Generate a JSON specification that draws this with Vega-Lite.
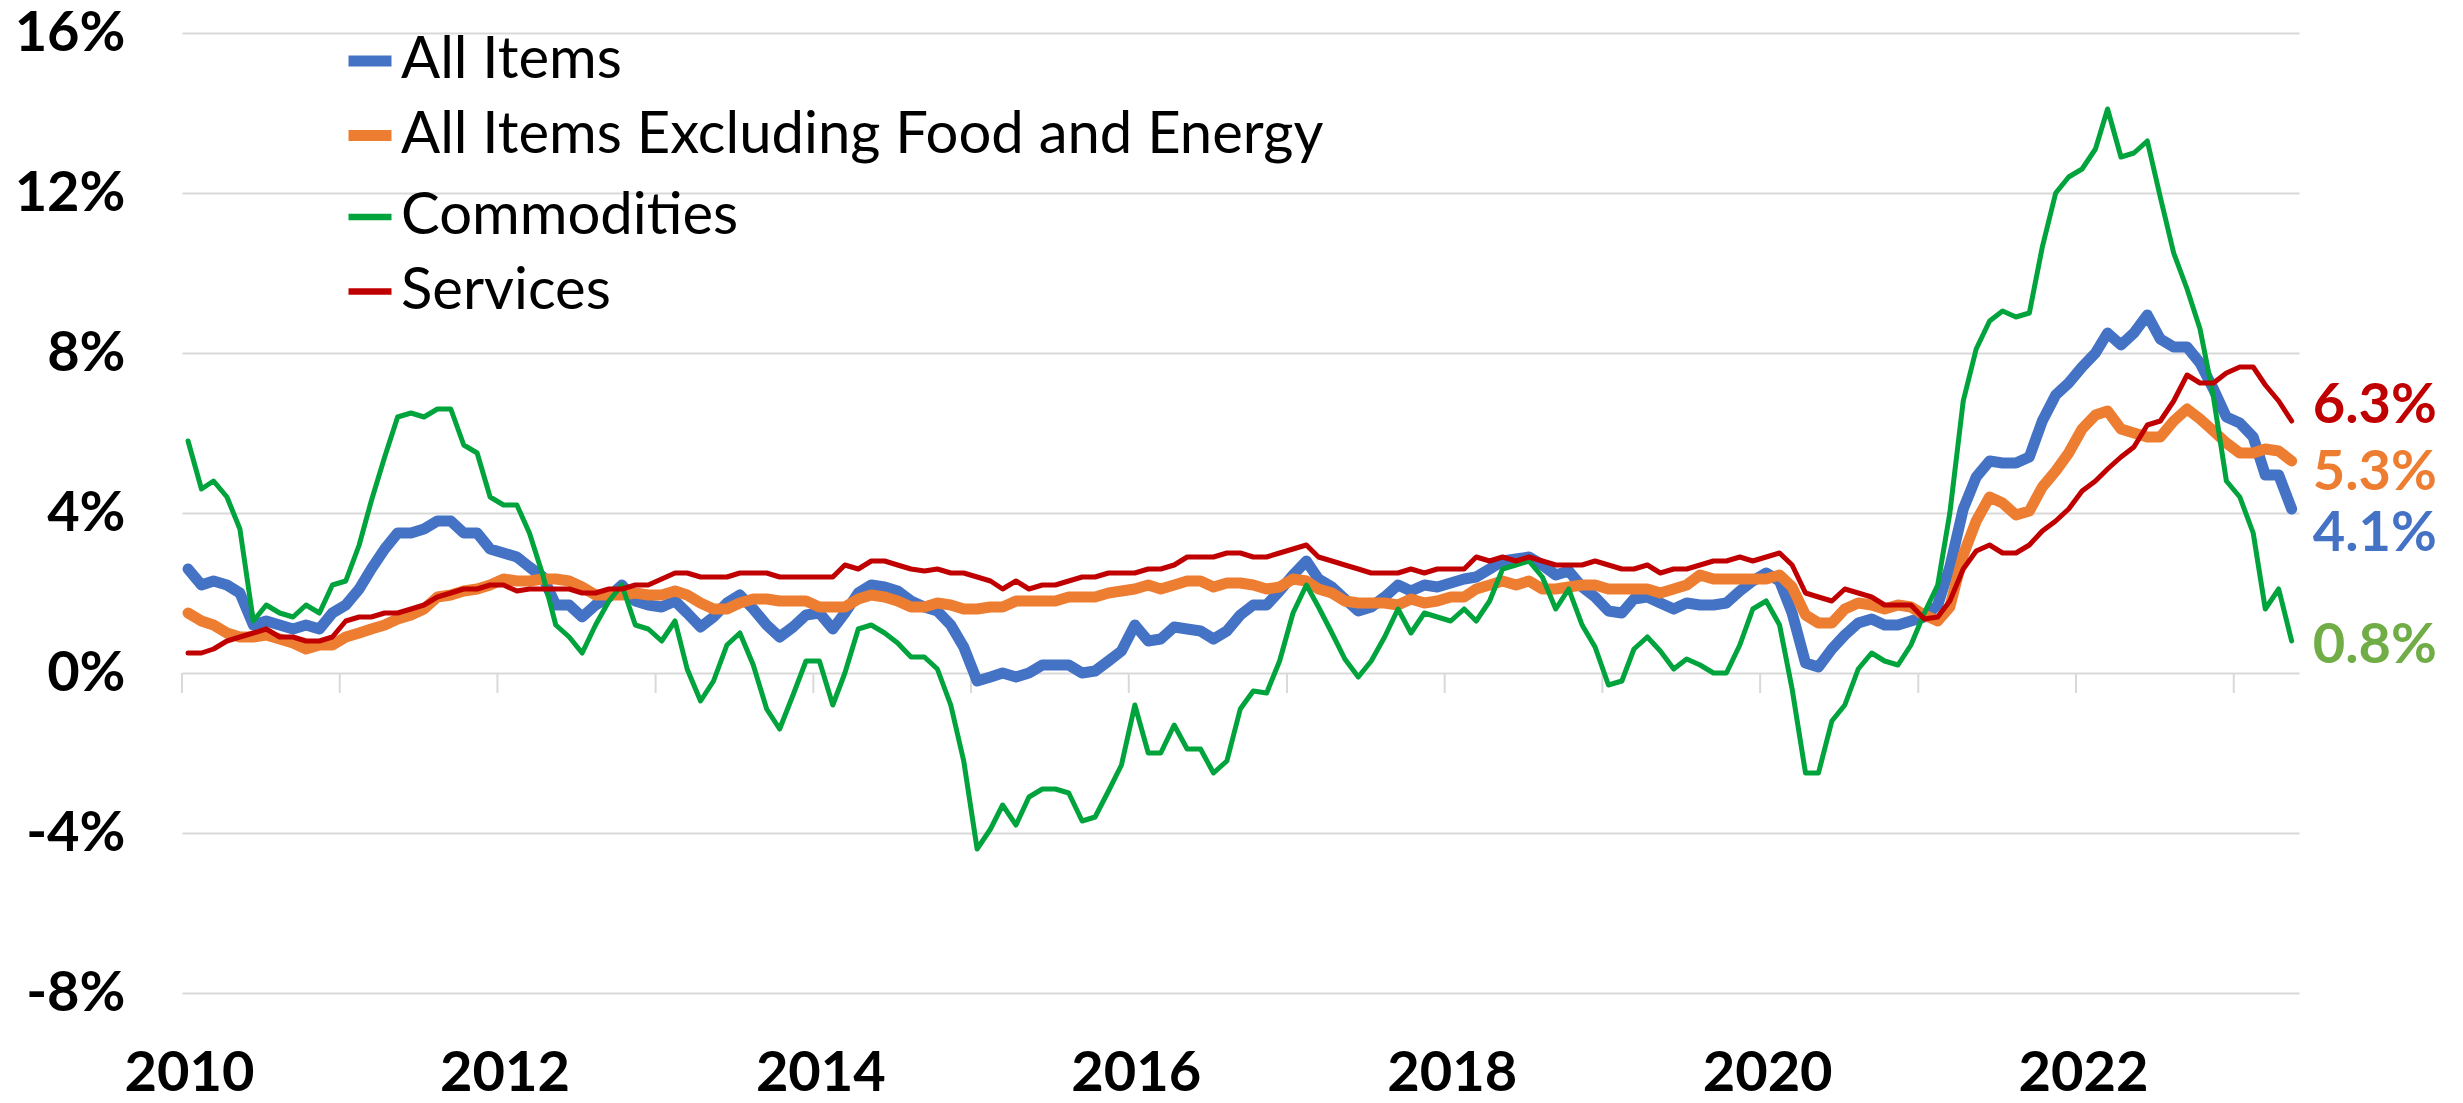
{
"$schema": "https://vega.github.io/schema/vega-lite/v6.json",
"width": 2117, "height": 960,
"autosize": "none",
"padding": {"left": 182, "top": 33, "right": 164, "bottom": 110},
"background": "white",
"config": {"view": {"stroke": null}, "font": "Lato"},
"datasets": {
"ticks": [{"date":"2010-01-01"},{"date":"2011-01-01"},{"date":"2012-01-01"},{"date":"2013-01-01"},{"date":"2014-01-01"},{"date":"2015-01-01"},{"date":"2016-01-01"},{"date":"2017-01-01"},{"date":"2018-01-01"},{"date":"2019-01-01"},{"date":"2020-01-01"},{"date":"2021-01-01"},{"date":"2022-01-01"},{"date":"2023-01-01"}],
"ends": [
{"date":"2023-05-15","series":"Services","value":6.3,"label":"6.3%"},
{"date":"2023-05-15","series":"All Items Excluding Food and Energy","value":5.3,"label":"5.3%"},
{"date":"2023-05-15","series":"All Items","value":4.1,"label":"4.1%"},
{"date":"2023-05-15","series":"Commodities","value":0.8,"label":"0.8%"}
],
"cpi": [
{"date":"2010-01-15","series":"All Items","value":2.6},{"date":"2010-02-15","series":"All Items","value":2.2},{"date":"2010-03-15","series":"All Items","value":2.3},{"date":"2010-04-15","series":"All Items","value":2.2},{"date":"2010-05-15","series":"All Items","value":2.0},{"date":"2010-06-15","series":"All Items","value":1.2},{"date":"2010-07-15","series":"All Items","value":1.3},{"date":"2010-08-15","series":"All Items","value":1.2},{"date":"2010-09-15","series":"All Items","value":1.1},{"date":"2010-10-15","series":"All Items","value":1.2},{"date":"2010-11-15","series":"All Items","value":1.1},{"date":"2010-12-15","series":"All Items","value":1.5},
{"date":"2011-01-15","series":"All Items","value":1.7},{"date":"2011-02-15","series":"All Items","value":2.1},{"date":"2011-03-15","series":"All Items","value":2.6},{"date":"2011-04-15","series":"All Items","value":3.1},{"date":"2011-05-15","series":"All Items","value":3.5},{"date":"2011-06-15","series":"All Items","value":3.5},{"date":"2011-07-15","series":"All Items","value":3.6},{"date":"2011-08-15","series":"All Items","value":3.8},{"date":"2011-09-15","series":"All Items","value":3.8},{"date":"2011-10-15","series":"All Items","value":3.5},{"date":"2011-11-15","series":"All Items","value":3.5},{"date":"2011-12-15","series":"All Items","value":3.1},
{"date":"2012-01-15","series":"All Items","value":3.0},{"date":"2012-02-15","series":"All Items","value":2.9},{"date":"2012-03-15","series":"All Items","value":2.65},{"date":"2012-04-15","series":"All Items","value":2.4},{"date":"2012-05-15","series":"All Items","value":1.7},{"date":"2012-06-15","series":"All Items","value":1.7},{"date":"2012-07-15","series":"All Items","value":1.4},{"date":"2012-08-15","series":"All Items","value":1.7},{"date":"2012-09-15","series":"All Items","value":1.9},{"date":"2012-10-15","series":"All Items","value":2.2},{"date":"2012-11-15","series":"All Items","value":1.8},{"date":"2012-12-15","series":"All Items","value":1.7},
{"date":"2013-01-15","series":"All Items","value":1.65},{"date":"2013-02-15","series":"All Items","value":1.8},{"date":"2013-03-15","series":"All Items","value":1.5},{"date":"2013-04-15","series":"All Items","value":1.15},{"date":"2013-05-15","series":"All Items","value":1.4},{"date":"2013-06-15","series":"All Items","value":1.75},{"date":"2013-07-15","series":"All Items","value":1.95},{"date":"2013-08-15","series":"All Items","value":1.6},{"date":"2013-09-15","series":"All Items","value":1.2},{"date":"2013-10-15","series":"All Items","value":0.9},{"date":"2013-11-15","series":"All Items","value":1.15},{"date":"2013-12-15","series":"All Items","value":1.45},
{"date":"2014-01-15","series":"All Items","value":1.5},{"date":"2014-02-15","series":"All Items","value":1.1},{"date":"2014-03-15","series":"All Items","value":1.5},{"date":"2014-04-15","series":"All Items","value":2.0},{"date":"2014-05-15","series":"All Items","value":2.2},{"date":"2014-06-15","series":"All Items","value":2.15},{"date":"2014-07-15","series":"All Items","value":2.05},{"date":"2014-08-15","series":"All Items","value":1.8},{"date":"2014-09-15","series":"All Items","value":1.65},{"date":"2014-10-15","series":"All Items","value":1.55},{"date":"2014-11-15","series":"All Items","value":1.2},{"date":"2014-12-15","series":"All Items","value":0.65},
{"date":"2015-01-15","series":"All Items","value":-0.2},{"date":"2015-02-15","series":"All Items","value":-0.1},{"date":"2015-03-15","series":"All Items","value":0.0},{"date":"2015-04-15","series":"All Items","value":-0.1},{"date":"2015-05-15","series":"All Items","value":0.0},{"date":"2015-06-15","series":"All Items","value":0.2},{"date":"2015-07-15","series":"All Items","value":0.2},{"date":"2015-08-15","series":"All Items","value":0.2},{"date":"2015-09-15","series":"All Items","value":0.0},{"date":"2015-10-15","series":"All Items","value":0.05},{"date":"2015-11-15","series":"All Items","value":0.3},{"date":"2015-12-15","series":"All Items","value":0.55},
{"date":"2016-01-15","series":"All Items","value":1.2},{"date":"2016-02-15","series":"All Items","value":0.8},{"date":"2016-03-15","series":"All Items","value":0.85},{"date":"2016-04-15","series":"All Items","value":1.15},{"date":"2016-05-15","series":"All Items","value":1.1},{"date":"2016-06-15","series":"All Items","value":1.05},{"date":"2016-07-15","series":"All Items","value":0.85},{"date":"2016-08-15","series":"All Items","value":1.05},{"date":"2016-09-15","series":"All Items","value":1.45},{"date":"2016-10-15","series":"All Items","value":1.7},{"date":"2016-11-15","series":"All Items","value":1.7},{"date":"2016-12-15","series":"All Items","value":2.05},
{"date":"2017-01-15","series":"All Items","value":2.45},{"date":"2017-02-15","series":"All Items","value":2.8},{"date":"2017-03-15","series":"All Items","value":2.35},{"date":"2017-04-15","series":"All Items","value":2.15},{"date":"2017-05-15","series":"All Items","value":1.85},{"date":"2017-06-15","series":"All Items","value":1.55},{"date":"2017-07-15","series":"All Items","value":1.65},{"date":"2017-08-15","series":"All Items","value":1.9},{"date":"2017-09-15","series":"All Items","value":2.2},{"date":"2017-10-15","series":"All Items","value":2.05},{"date":"2017-11-15","series":"All Items","value":2.2},{"date":"2017-12-15","series":"All Items","value":2.15},
{"date":"2018-01-15","series":"All Items","value":2.25},{"date":"2018-02-15","series":"All Items","value":2.35},{"date":"2018-03-15","series":"All Items","value":2.4},{"date":"2018-04-15","series":"All Items","value":2.6},{"date":"2018-05-15","series":"All Items","value":2.8},{"date":"2018-06-15","series":"All Items","value":2.85},{"date":"2018-07-15","series":"All Items","value":2.9},{"date":"2018-08-15","series":"All Items","value":2.7},{"date":"2018-09-15","series":"All Items","value":2.45},{"date":"2018-10-15","series":"All Items","value":2.55},{"date":"2018-11-15","series":"All Items","value":2.15},{"date":"2018-12-15","series":"All Items","value":1.9},
{"date":"2019-01-15","series":"All Items","value":1.55},{"date":"2019-02-15","series":"All Items","value":1.5},{"date":"2019-03-15","series":"All Items","value":1.85},{"date":"2019-04-15","series":"All Items","value":1.9},{"date":"2019-05-15","series":"All Items","value":1.75},{"date":"2019-06-15","series":"All Items","value":1.6},{"date":"2019-07-15","series":"All Items","value":1.75},{"date":"2019-08-15","series":"All Items","value":1.7},{"date":"2019-09-15","series":"All Items","value":1.7},{"date":"2019-10-15","series":"All Items","value":1.75},{"date":"2019-11-15","series":"All Items","value":2.05},{"date":"2019-12-15","series":"All Items","value":2.3},
{"date":"2020-01-15","series":"All Items","value":2.5},{"date":"2020-02-15","series":"All Items","value":2.3},{"date":"2020-03-15","series":"All Items","value":1.5},{"date":"2020-04-15","series":"All Items","value":0.25},{"date":"2020-05-15","series":"All Items","value":0.15},{"date":"2020-06-15","series":"All Items","value":0.6},{"date":"2020-07-15","series":"All Items","value":0.95},{"date":"2020-08-15","series":"All Items","value":1.25},{"date":"2020-09-15","series":"All Items","value":1.35},{"date":"2020-10-15","series":"All Items","value":1.2},{"date":"2020-11-15","series":"All Items","value":1.2},{"date":"2020-12-15","series":"All Items","value":1.3},
{"date":"2021-01-15","series":"All Items","value":1.4},{"date":"2021-02-15","series":"All Items","value":1.7},{"date":"2021-03-15","series":"All Items","value":2.65},{"date":"2021-04-15","series":"All Items","value":4.1},{"date":"2021-05-15","series":"All Items","value":4.9},{"date":"2021-06-15","series":"All Items","value":5.3},{"date":"2021-07-15","series":"All Items","value":5.25},{"date":"2021-08-15","series":"All Items","value":5.25},{"date":"2021-09-15","series":"All Items","value":5.4},{"date":"2021-10-15","series":"All Items","value":6.3},{"date":"2021-11-15","series":"All Items","value":6.95},{"date":"2021-12-15","series":"All Items","value":7.25},
{"date":"2022-01-15","series":"All Items","value":7.65},{"date":"2022-02-15","series":"All Items","value":8.0},{"date":"2022-03-15","series":"All Items","value":8.5},{"date":"2022-04-15","series":"All Items","value":8.2},{"date":"2022-05-15","series":"All Items","value":8.5},{"date":"2022-06-15","series":"All Items","value":8.95},{"date":"2022-07-15","series":"All Items","value":8.35},{"date":"2022-08-15","series":"All Items","value":8.15},{"date":"2022-09-15","series":"All Items","value":8.15},{"date":"2022-10-15","series":"All Items","value":7.75},{"date":"2022-11-15","series":"All Items","value":7.1},{"date":"2022-12-15","series":"All Items","value":6.4},
{"date":"2023-01-15","series":"All Items","value":6.25},{"date":"2023-02-15","series":"All Items","value":5.9},{"date":"2023-03-15","series":"All Items","value":4.95},{"date":"2023-04-15","series":"All Items","value":4.95},{"date":"2023-05-15","series":"All Items","value":4.1},

{"date":"2010-01-15","series":"All Items Excluding Food and Energy","value":1.5},{"date":"2010-02-15","series":"All Items Excluding Food and Energy","value":1.3},{"date":"2010-03-15","series":"All Items Excluding Food and Energy","value":1.2},{"date":"2010-04-15","series":"All Items Excluding Food and Energy","value":1.0},{"date":"2010-05-15","series":"All Items Excluding Food and Energy","value":0.9},{"date":"2010-06-15","series":"All Items Excluding Food and Energy","value":0.9},{"date":"2010-07-15","series":"All Items Excluding Food and Energy","value":0.95},{"date":"2010-08-15","series":"All Items Excluding Food and Energy","value":0.85},{"date":"2010-09-15","series":"All Items Excluding Food and Energy","value":0.75},{"date":"2010-10-15","series":"All Items Excluding Food and Energy","value":0.6},{"date":"2010-11-15","series":"All Items Excluding Food and Energy","value":0.7},{"date":"2010-12-15","series":"All Items Excluding Food and Energy","value":0.7},
{"date":"2011-01-15","series":"All Items Excluding Food and Energy","value":0.9},{"date":"2011-02-15","series":"All Items Excluding Food and Energy","value":1.0},{"date":"2011-03-15","series":"All Items Excluding Food and Energy","value":1.1},{"date":"2011-04-15","series":"All Items Excluding Food and Energy","value":1.2},{"date":"2011-05-15","series":"All Items Excluding Food and Energy","value":1.35},{"date":"2011-06-15","series":"All Items Excluding Food and Energy","value":1.45},{"date":"2011-07-15","series":"All Items Excluding Food and Energy","value":1.6},{"date":"2011-08-15","series":"All Items Excluding Food and Energy","value":1.9},{"date":"2011-09-15","series":"All Items Excluding Food and Energy","value":1.95},{"date":"2011-10-15","series":"All Items Excluding Food and Energy","value":2.05},{"date":"2011-11-15","series":"All Items Excluding Food and Energy","value":2.1},{"date":"2011-12-15","series":"All Items Excluding Food and Energy","value":2.2},
{"date":"2012-01-15","series":"All Items Excluding Food and Energy","value":2.35},{"date":"2012-02-15","series":"All Items Excluding Food and Energy","value":2.3},{"date":"2012-03-15","series":"All Items Excluding Food and Energy","value":2.3},{"date":"2012-04-15","series":"All Items Excluding Food and Energy","value":2.35},{"date":"2012-05-15","series":"All Items Excluding Food and Energy","value":2.35},{"date":"2012-06-15","series":"All Items Excluding Food and Energy","value":2.3},{"date":"2012-07-15","series":"All Items Excluding Food and Energy","value":2.15},{"date":"2012-08-15","series":"All Items Excluding Food and Energy","value":1.95},{"date":"2012-09-15","series":"All Items Excluding Food and Energy","value":1.95},{"date":"2012-10-15","series":"All Items Excluding Food and Energy","value":1.95},{"date":"2012-11-15","series":"All Items Excluding Food and Energy","value":2.0},{"date":"2012-12-15","series":"All Items Excluding Food and Energy","value":1.95},
{"date":"2013-01-15","series":"All Items Excluding Food and Energy","value":1.95},{"date":"2013-02-15","series":"All Items Excluding Food and Energy","value":2.05},{"date":"2013-03-15","series":"All Items Excluding Food and Energy","value":1.95},{"date":"2013-04-15","series":"All Items Excluding Food and Energy","value":1.75},{"date":"2013-05-15","series":"All Items Excluding Food and Energy","value":1.6},{"date":"2013-06-15","series":"All Items Excluding Food and Energy","value":1.6},{"date":"2013-07-15","series":"All Items Excluding Food and Energy","value":1.75},{"date":"2013-08-15","series":"All Items Excluding Food and Energy","value":1.85},{"date":"2013-09-15","series":"All Items Excluding Food and Energy","value":1.85},{"date":"2013-10-15","series":"All Items Excluding Food and Energy","value":1.8},{"date":"2013-11-15","series":"All Items Excluding Food and Energy","value":1.8},{"date":"2013-12-15","series":"All Items Excluding Food and Energy","value":1.8},
{"date":"2014-01-15","series":"All Items Excluding Food and Energy","value":1.65},{"date":"2014-02-15","series":"All Items Excluding Food and Energy","value":1.65},{"date":"2014-03-15","series":"All Items Excluding Food and Energy","value":1.65},{"date":"2014-04-15","series":"All Items Excluding Food and Energy","value":1.85},{"date":"2014-05-15","series":"All Items Excluding Food and Energy","value":1.95},{"date":"2014-06-15","series":"All Items Excluding Food and Energy","value":1.9},{"date":"2014-07-15","series":"All Items Excluding Food and Energy","value":1.8},{"date":"2014-08-15","series":"All Items Excluding Food and Energy","value":1.65},{"date":"2014-09-15","series":"All Items Excluding Food and Energy","value":1.65},{"date":"2014-10-15","series":"All Items Excluding Food and Energy","value":1.75},{"date":"2014-11-15","series":"All Items Excluding Food and Energy","value":1.7},{"date":"2014-12-15","series":"All Items Excluding Food and Energy","value":1.6},
{"date":"2015-01-15","series":"All Items Excluding Food and Energy","value":1.6},{"date":"2015-02-15","series":"All Items Excluding Food and Energy","value":1.65},{"date":"2015-03-15","series":"All Items Excluding Food and Energy","value":1.65},{"date":"2015-04-15","series":"All Items Excluding Food and Energy","value":1.8},{"date":"2015-05-15","series":"All Items Excluding Food and Energy","value":1.8},{"date":"2015-06-15","series":"All Items Excluding Food and Energy","value":1.8},{"date":"2015-07-15","series":"All Items Excluding Food and Energy","value":1.8},{"date":"2015-08-15","series":"All Items Excluding Food and Energy","value":1.9},{"date":"2015-09-15","series":"All Items Excluding Food and Energy","value":1.9},{"date":"2015-10-15","series":"All Items Excluding Food and Energy","value":1.9},{"date":"2015-11-15","series":"All Items Excluding Food and Energy","value":2.0},{"date":"2015-12-15","series":"All Items Excluding Food and Energy","value":2.05},
{"date":"2016-01-15","series":"All Items Excluding Food and Energy","value":2.1},{"date":"2016-02-15","series":"All Items Excluding Food and Energy","value":2.2},{"date":"2016-03-15","series":"All Items Excluding Food and Energy","value":2.1},{"date":"2016-04-15","series":"All Items Excluding Food and Energy","value":2.2},{"date":"2016-05-15","series":"All Items Excluding Food and Energy","value":2.3},{"date":"2016-06-15","series":"All Items Excluding Food and Energy","value":2.3},{"date":"2016-07-15","series":"All Items Excluding Food and Energy","value":2.15},{"date":"2016-08-15","series":"All Items Excluding Food and Energy","value":2.25},{"date":"2016-09-15","series":"All Items Excluding Food and Energy","value":2.25},{"date":"2016-10-15","series":"All Items Excluding Food and Energy","value":2.2},{"date":"2016-11-15","series":"All Items Excluding Food and Energy","value":2.1},{"date":"2016-12-15","series":"All Items Excluding Food and Energy","value":2.15},
{"date":"2017-01-15","series":"All Items Excluding Food and Energy","value":2.35},{"date":"2017-02-15","series":"All Items Excluding Food and Energy","value":2.3},{"date":"2017-03-15","series":"All Items Excluding Food and Energy","value":2.1},{"date":"2017-04-15","series":"All Items Excluding Food and Energy","value":2.0},{"date":"2017-05-15","series":"All Items Excluding Food and Energy","value":1.8},{"date":"2017-06-15","series":"All Items Excluding Food and Energy","value":1.75},{"date":"2017-07-15","series":"All Items Excluding Food and Energy","value":1.75},{"date":"2017-08-15","series":"All Items Excluding Food and Energy","value":1.75},{"date":"2017-09-15","series":"All Items Excluding Food and Energy","value":1.7},{"date":"2017-10-15","series":"All Items Excluding Food and Energy","value":1.85},{"date":"2017-11-15","series":"All Items Excluding Food and Energy","value":1.75},{"date":"2017-12-15","series":"All Items Excluding Food and Energy","value":1.8},
{"date":"2018-01-15","series":"All Items Excluding Food and Energy","value":1.9},{"date":"2018-02-15","series":"All Items Excluding Food and Energy","value":1.9},{"date":"2018-03-15","series":"All Items Excluding Food and Energy","value":2.1},{"date":"2018-04-15","series":"All Items Excluding Food and Energy","value":2.2},{"date":"2018-05-15","series":"All Items Excluding Food and Energy","value":2.3},{"date":"2018-06-15","series":"All Items Excluding Food and Energy","value":2.2},{"date":"2018-07-15","series":"All Items Excluding Food and Energy","value":2.3},{"date":"2018-08-15","series":"All Items Excluding Food and Energy","value":2.1},{"date":"2018-09-15","series":"All Items Excluding Food and Energy","value":2.1},{"date":"2018-10-15","series":"All Items Excluding Food and Energy","value":2.15},{"date":"2018-11-15","series":"All Items Excluding Food and Energy","value":2.2},{"date":"2018-12-15","series":"All Items Excluding Food and Energy","value":2.2},
{"date":"2019-01-15","series":"All Items Excluding Food and Energy","value":2.1},{"date":"2019-02-15","series":"All Items Excluding Food and Energy","value":2.1},{"date":"2019-03-15","series":"All Items Excluding Food and Energy","value":2.1},{"date":"2019-04-15","series":"All Items Excluding Food and Energy","value":2.1},{"date":"2019-05-15","series":"All Items Excluding Food and Energy","value":2.0},{"date":"2019-06-15","series":"All Items Excluding Food and Energy","value":2.1},{"date":"2019-07-15","series":"All Items Excluding Food and Energy","value":2.2},{"date":"2019-08-15","series":"All Items Excluding Food and Energy","value":2.45},{"date":"2019-09-15","series":"All Items Excluding Food and Energy","value":2.35},{"date":"2019-10-15","series":"All Items Excluding Food and Energy","value":2.35},{"date":"2019-11-15","series":"All Items Excluding Food and Energy","value":2.35},{"date":"2019-12-15","series":"All Items Excluding Food and Energy","value":2.35},
{"date":"2020-01-15","series":"All Items Excluding Food and Energy","value":2.35},{"date":"2020-02-15","series":"All Items Excluding Food and Energy","value":2.45},{"date":"2020-03-15","series":"All Items Excluding Food and Energy","value":2.15},{"date":"2020-04-15","series":"All Items Excluding Food and Energy","value":1.45},{"date":"2020-05-15","series":"All Items Excluding Food and Energy","value":1.25},{"date":"2020-06-15","series":"All Items Excluding Food and Energy","value":1.25},{"date":"2020-07-15","series":"All Items Excluding Food and Energy","value":1.6},{"date":"2020-08-15","series":"All Items Excluding Food and Energy","value":1.75},{"date":"2020-09-15","series":"All Items Excluding Food and Energy","value":1.7},{"date":"2020-10-15","series":"All Items Excluding Food and Energy","value":1.6},{"date":"2020-11-15","series":"All Items Excluding Food and Energy","value":1.7},{"date":"2020-12-15","series":"All Items Excluding Food and Energy","value":1.65},
{"date":"2021-01-15","series":"All Items Excluding Food and Energy","value":1.45},{"date":"2021-02-15","series":"All Items Excluding Food and Energy","value":1.3},{"date":"2021-03-15","series":"All Items Excluding Food and Energy","value":1.65},{"date":"2021-04-15","series":"All Items Excluding Food and Energy","value":2.95},{"date":"2021-05-15","series":"All Items Excluding Food and Energy","value":3.8},{"date":"2021-06-15","series":"All Items Excluding Food and Energy","value":4.4},{"date":"2021-07-15","series":"All Items Excluding Food and Energy","value":4.25},{"date":"2021-08-15","series":"All Items Excluding Food and Energy","value":3.95},{"date":"2021-09-15","series":"All Items Excluding Food and Energy","value":4.05},{"date":"2021-10-15","series":"All Items Excluding Food and Energy","value":4.65},{"date":"2021-11-15","series":"All Items Excluding Food and Energy","value":5.05},{"date":"2021-12-15","series":"All Items Excluding Food and Energy","value":5.5},
{"date":"2022-01-15","series":"All Items Excluding Food and Energy","value":6.1},{"date":"2022-02-15","series":"All Items Excluding Food and Energy","value":6.45},{"date":"2022-03-15","series":"All Items Excluding Food and Energy","value":6.55},{"date":"2022-04-15","series":"All Items Excluding Food and Energy","value":6.1},{"date":"2022-05-15","series":"All Items Excluding Food and Energy","value":6.0},{"date":"2022-06-15","series":"All Items Excluding Food and Energy","value":5.9},{"date":"2022-07-15","series":"All Items Excluding Food and Energy","value":5.9},{"date":"2022-08-15","series":"All Items Excluding Food and Energy","value":6.3},{"date":"2022-09-15","series":"All Items Excluding Food and Energy","value":6.6},{"date":"2022-10-15","series":"All Items Excluding Food and Energy","value":6.35},{"date":"2022-11-15","series":"All Items Excluding Food and Energy","value":6.05},{"date":"2022-12-15","series":"All Items Excluding Food and Energy","value":5.75},
{"date":"2023-01-15","series":"All Items Excluding Food and Energy","value":5.5},{"date":"2023-02-15","series":"All Items Excluding Food and Energy","value":5.5},{"date":"2023-03-15","series":"All Items Excluding Food and Energy","value":5.6},{"date":"2023-04-15","series":"All Items Excluding Food and Energy","value":5.55},{"date":"2023-05-15","series":"All Items Excluding Food and Energy","value":5.3},

{"date":"2010-01-15","series":"Commodities","value":5.8},{"date":"2010-02-15","series":"Commodities","value":4.6},{"date":"2010-03-15","series":"Commodities","value":4.8},{"date":"2010-04-15","series":"Commodities","value":4.4},{"date":"2010-05-15","series":"Commodities","value":3.6},{"date":"2010-06-15","series":"Commodities","value":1.3},{"date":"2010-07-15","series":"Commodities","value":1.7},{"date":"2010-08-15","series":"Commodities","value":1.5},{"date":"2010-09-15","series":"Commodities","value":1.4},{"date":"2010-10-15","series":"Commodities","value":1.7},{"date":"2010-11-15","series":"Commodities","value":1.5},{"date":"2010-12-15","series":"Commodities","value":2.2},
{"date":"2011-01-15","series":"Commodities","value":2.3},{"date":"2011-02-15","series":"Commodities","value":3.2},{"date":"2011-03-15","series":"Commodities","value":4.3},{"date":"2011-04-15","series":"Commodities","value":5.4},{"date":"2011-05-15","series":"Commodities","value":6.4},{"date":"2011-06-15","series":"Commodities","value":6.5},{"date":"2011-07-15","series":"Commodities","value":6.4},{"date":"2011-08-15","series":"Commodities","value":6.6},{"date":"2011-09-15","series":"Commodities","value":6.6},{"date":"2011-10-15","series":"Commodities","value":5.7},{"date":"2011-11-15","series":"Commodities","value":5.5},{"date":"2011-12-15","series":"Commodities","value":4.4},
{"date":"2012-01-15","series":"Commodities","value":4.2},{"date":"2012-02-15","series":"Commodities","value":4.2},{"date":"2012-03-15","series":"Commodities","value":3.5},{"date":"2012-04-15","series":"Commodities","value":2.45},{"date":"2012-05-15","series":"Commodities","value":1.2},{"date":"2012-06-15","series":"Commodities","value":0.9},{"date":"2012-07-15","series":"Commodities","value":0.5},{"date":"2012-08-15","series":"Commodities","value":1.2},{"date":"2012-09-15","series":"Commodities","value":1.8},{"date":"2012-10-15","series":"Commodities","value":2.2},{"date":"2012-11-15","series":"Commodities","value":1.2},{"date":"2012-12-15","series":"Commodities","value":1.1},
{"date":"2013-01-15","series":"Commodities","value":0.8},{"date":"2013-02-15","series":"Commodities","value":1.3},{"date":"2013-03-15","series":"Commodities","value":0.1},{"date":"2013-04-15","series":"Commodities","value":-0.7},{"date":"2013-05-15","series":"Commodities","value":-0.2},{"date":"2013-06-15","series":"Commodities","value":0.7},{"date":"2013-07-15","series":"Commodities","value":1.0},{"date":"2013-08-15","series":"Commodities","value":0.2},{"date":"2013-09-15","series":"Commodities","value":-0.9},{"date":"2013-10-15","series":"Commodities","value":-1.4},{"date":"2013-11-15","series":"Commodities","value":-0.55},{"date":"2013-12-15","series":"Commodities","value":0.3},
{"date":"2014-01-15","series":"Commodities","value":0.3},{"date":"2014-02-15","series":"Commodities","value":-0.8},{"date":"2014-03-15","series":"Commodities","value":0.0},{"date":"2014-04-15","series":"Commodities","value":1.1},{"date":"2014-05-15","series":"Commodities","value":1.2},{"date":"2014-06-15","series":"Commodities","value":1.0},{"date":"2014-07-15","series":"Commodities","value":0.75},{"date":"2014-08-15","series":"Commodities","value":0.4},{"date":"2014-09-15","series":"Commodities","value":0.4},{"date":"2014-10-15","series":"Commodities","value":0.1},{"date":"2014-11-15","series":"Commodities","value":-0.8},{"date":"2014-12-15","series":"Commodities","value":-2.2},
{"date":"2015-01-15","series":"Commodities","value":-4.4},{"date":"2015-02-15","series":"Commodities","value":-3.9},{"date":"2015-03-15","series":"Commodities","value":-3.3},{"date":"2015-04-15","series":"Commodities","value":-3.8},{"date":"2015-05-15","series":"Commodities","value":-3.1},{"date":"2015-06-15","series":"Commodities","value":-2.9},{"date":"2015-07-15","series":"Commodities","value":-2.9},{"date":"2015-08-15","series":"Commodities","value":-3.0},{"date":"2015-09-15","series":"Commodities","value":-3.7},{"date":"2015-10-15","series":"Commodities","value":-3.6},{"date":"2015-11-15","series":"Commodities","value":-2.95},{"date":"2015-12-15","series":"Commodities","value":-2.3},
{"date":"2016-01-15","series":"Commodities","value":-0.8},{"date":"2016-02-15","series":"Commodities","value":-2.0},{"date":"2016-03-15","series":"Commodities","value":-2.0},{"date":"2016-04-15","series":"Commodities","value":-1.3},{"date":"2016-05-15","series":"Commodities","value":-1.9},{"date":"2016-06-15","series":"Commodities","value":-1.9},{"date":"2016-07-15","series":"Commodities","value":-2.5},{"date":"2016-08-15","series":"Commodities","value":-2.2},{"date":"2016-09-15","series":"Commodities","value":-0.9},{"date":"2016-10-15","series":"Commodities","value":-0.45},{"date":"2016-11-15","series":"Commodities","value":-0.5},{"date":"2016-12-15","series":"Commodities","value":0.3},
{"date":"2017-01-15","series":"Commodities","value":1.5},{"date":"2017-02-15","series":"Commodities","value":2.2},{"date":"2017-03-15","series":"Commodities","value":1.65},{"date":"2017-04-15","series":"Commodities","value":1.0},{"date":"2017-05-15","series":"Commodities","value":0.35},{"date":"2017-06-15","series":"Commodities","value":-0.1},{"date":"2017-07-15","series":"Commodities","value":0.3},{"date":"2017-08-15","series":"Commodities","value":0.9},{"date":"2017-09-15","series":"Commodities","value":1.6},{"date":"2017-10-15","series":"Commodities","value":1.0},{"date":"2017-11-15","series":"Commodities","value":1.5},{"date":"2017-12-15","series":"Commodities","value":1.4},
{"date":"2018-01-15","series":"Commodities","value":1.3},{"date":"2018-02-15","series":"Commodities","value":1.6},{"date":"2018-03-15","series":"Commodities","value":1.3},{"date":"2018-04-15","series":"Commodities","value":1.8},{"date":"2018-05-15","series":"Commodities","value":2.6},{"date":"2018-06-15","series":"Commodities","value":2.7},{"date":"2018-07-15","series":"Commodities","value":2.8},{"date":"2018-08-15","series":"Commodities","value":2.4},{"date":"2018-09-15","series":"Commodities","value":1.6},{"date":"2018-10-15","series":"Commodities","value":2.1},{"date":"2018-11-15","series":"Commodities","value":1.2},{"date":"2018-12-15","series":"Commodities","value":0.65},
{"date":"2019-01-15","series":"Commodities","value":-0.3},{"date":"2019-02-15","series":"Commodities","value":-0.2},{"date":"2019-03-15","series":"Commodities","value":0.6},{"date":"2019-04-15","series":"Commodities","value":0.9},{"date":"2019-05-15","series":"Commodities","value":0.55},{"date":"2019-06-15","series":"Commodities","value":0.1},{"date":"2019-07-15","series":"Commodities","value":0.35},{"date":"2019-08-15","series":"Commodities","value":0.2},{"date":"2019-09-15","series":"Commodities","value":0.0},{"date":"2019-10-15","series":"Commodities","value":0.0},{"date":"2019-11-15","series":"Commodities","value":0.7},{"date":"2019-12-15","series":"Commodities","value":1.6},
{"date":"2020-01-15","series":"Commodities","value":1.8},{"date":"2020-02-15","series":"Commodities","value":1.2},{"date":"2020-03-15","series":"Commodities","value":-0.4},{"date":"2020-04-15","series":"Commodities","value":-2.5},{"date":"2020-05-15","series":"Commodities","value":-2.5},{"date":"2020-06-15","series":"Commodities","value":-1.2},{"date":"2020-07-15","series":"Commodities","value":-0.8},{"date":"2020-08-15","series":"Commodities","value":0.1},{"date":"2020-09-15","series":"Commodities","value":0.5},{"date":"2020-10-15","series":"Commodities","value":0.3},{"date":"2020-11-15","series":"Commodities","value":0.2},{"date":"2020-12-15","series":"Commodities","value":0.7},
{"date":"2021-01-15","series":"Commodities","value":1.5},{"date":"2021-02-15","series":"Commodities","value":2.2},{"date":"2021-03-15","series":"Commodities","value":4.0},{"date":"2021-04-15","series":"Commodities","value":6.8},{"date":"2021-05-15","series":"Commodities","value":8.1},{"date":"2021-06-15","series":"Commodities","value":8.8},{"date":"2021-07-15","series":"Commodities","value":9.05},{"date":"2021-08-15","series":"Commodities","value":8.9},{"date":"2021-09-15","series":"Commodities","value":9.0},{"date":"2021-10-15","series":"Commodities","value":10.65},{"date":"2021-11-15","series":"Commodities","value":12.0},{"date":"2021-12-15","series":"Commodities","value":12.4},
{"date":"2022-01-15","series":"Commodities","value":12.6},{"date":"2022-02-15","series":"Commodities","value":13.1},{"date":"2022-03-15","series":"Commodities","value":14.1},{"date":"2022-04-15","series":"Commodities","value":12.9},{"date":"2022-05-15","series":"Commodities","value":13.0},{"date":"2022-06-15","series":"Commodities","value":13.3},{"date":"2022-07-15","series":"Commodities","value":11.9},{"date":"2022-08-15","series":"Commodities","value":10.5},{"date":"2022-09-15","series":"Commodities","value":9.6},{"date":"2022-10-15","series":"Commodities","value":8.6},{"date":"2022-11-15","series":"Commodities","value":6.9},{"date":"2022-12-15","series":"Commodities","value":4.8},
{"date":"2023-01-15","series":"Commodities","value":4.4},{"date":"2023-02-15","series":"Commodities","value":3.5},{"date":"2023-03-15","series":"Commodities","value":1.6},{"date":"2023-04-15","series":"Commodities","value":2.1},{"date":"2023-05-15","series":"Commodities","value":0.8},

{"date":"2010-01-15","series":"Services","value":0.5},{"date":"2010-02-15","series":"Services","value":0.5},{"date":"2010-03-15","series":"Services","value":0.6},{"date":"2010-04-15","series":"Services","value":0.8},{"date":"2010-05-15","series":"Services","value":0.9},{"date":"2010-06-15","series":"Services","value":1.0},{"date":"2010-07-15","series":"Services","value":1.1},{"date":"2010-08-15","series":"Services","value":0.9},{"date":"2010-09-15","series":"Services","value":0.9},{"date":"2010-10-15","series":"Services","value":0.8},{"date":"2010-11-15","series":"Services","value":0.8},{"date":"2010-12-15","series":"Services","value":0.9},
{"date":"2011-01-15","series":"Services","value":1.3},{"date":"2011-02-15","series":"Services","value":1.4},{"date":"2011-03-15","series":"Services","value":1.4},{"date":"2011-04-15","series":"Services","value":1.5},{"date":"2011-05-15","series":"Services","value":1.5},{"date":"2011-06-15","series":"Services","value":1.6},{"date":"2011-07-15","series":"Services","value":1.7},{"date":"2011-08-15","series":"Services","value":1.9},{"date":"2011-09-15","series":"Services","value":2.0},{"date":"2011-10-15","series":"Services","value":2.1},{"date":"2011-11-15","series":"Services","value":2.1},{"date":"2011-12-15","series":"Services","value":2.2},
{"date":"2012-01-15","series":"Services","value":2.2},{"date":"2012-02-15","series":"Services","value":2.05},{"date":"2012-03-15","series":"Services","value":2.1},{"date":"2012-04-15","series":"Services","value":2.1},{"date":"2012-05-15","series":"Services","value":2.1},{"date":"2012-06-15","series":"Services","value":2.1},{"date":"2012-07-15","series":"Services","value":2.0},{"date":"2012-08-15","series":"Services","value":2.0},{"date":"2012-09-15","series":"Services","value":2.1},{"date":"2012-10-15","series":"Services","value":2.1},{"date":"2012-11-15","series":"Services","value":2.2},{"date":"2012-12-15","series":"Services","value":2.2},
{"date":"2013-01-15","series":"Services","value":2.35},{"date":"2013-02-15","series":"Services","value":2.5},{"date":"2013-03-15","series":"Services","value":2.5},{"date":"2013-04-15","series":"Services","value":2.4},{"date":"2013-05-15","series":"Services","value":2.4},{"date":"2013-06-15","series":"Services","value":2.4},{"date":"2013-07-15","series":"Services","value":2.5},{"date":"2013-08-15","series":"Services","value":2.5},{"date":"2013-09-15","series":"Services","value":2.5},{"date":"2013-10-15","series":"Services","value":2.4},{"date":"2013-11-15","series":"Services","value":2.4},{"date":"2013-12-15","series":"Services","value":2.4},
{"date":"2014-01-15","series":"Services","value":2.4},{"date":"2014-02-15","series":"Services","value":2.4},{"date":"2014-03-15","series":"Services","value":2.7},{"date":"2014-04-15","series":"Services","value":2.6},{"date":"2014-05-15","series":"Services","value":2.8},{"date":"2014-06-15","series":"Services","value":2.8},{"date":"2014-07-15","series":"Services","value":2.7},{"date":"2014-08-15","series":"Services","value":2.6},{"date":"2014-09-15","series":"Services","value":2.55},{"date":"2014-10-15","series":"Services","value":2.6},{"date":"2014-11-15","series":"Services","value":2.5},{"date":"2014-12-15","series":"Services","value":2.5},
{"date":"2015-01-15","series":"Services","value":2.4},{"date":"2015-02-15","series":"Services","value":2.3},{"date":"2015-03-15","series":"Services","value":2.1},{"date":"2015-04-15","series":"Services","value":2.3},{"date":"2015-05-15","series":"Services","value":2.1},{"date":"2015-06-15","series":"Services","value":2.2},{"date":"2015-07-15","series":"Services","value":2.2},{"date":"2015-08-15","series":"Services","value":2.3},{"date":"2015-09-15","series":"Services","value":2.4},{"date":"2015-10-15","series":"Services","value":2.4},{"date":"2015-11-15","series":"Services","value":2.5},{"date":"2015-12-15","series":"Services","value":2.5},
{"date":"2016-01-15","series":"Services","value":2.5},{"date":"2016-02-15","series":"Services","value":2.6},{"date":"2016-03-15","series":"Services","value":2.6},{"date":"2016-04-15","series":"Services","value":2.7},{"date":"2016-05-15","series":"Services","value":2.9},{"date":"2016-06-15","series":"Services","value":2.9},{"date":"2016-07-15","series":"Services","value":2.9},{"date":"2016-08-15","series":"Services","value":3.0},{"date":"2016-09-15","series":"Services","value":3.0},{"date":"2016-10-15","series":"Services","value":2.9},{"date":"2016-11-15","series":"Services","value":2.9},{"date":"2016-12-15","series":"Services","value":3.0},
{"date":"2017-01-15","series":"Services","value":3.1},{"date":"2017-02-15","series":"Services","value":3.2},{"date":"2017-03-15","series":"Services","value":2.9},{"date":"2017-04-15","series":"Services","value":2.8},{"date":"2017-05-15","series":"Services","value":2.7},{"date":"2017-06-15","series":"Services","value":2.6},{"date":"2017-07-15","series":"Services","value":2.5},{"date":"2017-08-15","series":"Services","value":2.5},{"date":"2017-09-15","series":"Services","value":2.5},{"date":"2017-10-15","series":"Services","value":2.6},{"date":"2017-11-15","series":"Services","value":2.5},{"date":"2017-12-15","series":"Services","value":2.6},
{"date":"2018-01-15","series":"Services","value":2.6},{"date":"2018-02-15","series":"Services","value":2.6},{"date":"2018-03-15","series":"Services","value":2.9},{"date":"2018-04-15","series":"Services","value":2.8},{"date":"2018-05-15","series":"Services","value":2.9},{"date":"2018-06-15","series":"Services","value":2.8},{"date":"2018-07-15","series":"Services","value":2.9},{"date":"2018-08-15","series":"Services","value":2.8},{"date":"2018-09-15","series":"Services","value":2.7},{"date":"2018-10-15","series":"Services","value":2.7},{"date":"2018-11-15","series":"Services","value":2.7},{"date":"2018-12-15","series":"Services","value":2.8},
{"date":"2019-01-15","series":"Services","value":2.7},{"date":"2019-02-15","series":"Services","value":2.6},{"date":"2019-03-15","series":"Services","value":2.6},{"date":"2019-04-15","series":"Services","value":2.7},{"date":"2019-05-15","series":"Services","value":2.5},{"date":"2019-06-15","series":"Services","value":2.6},{"date":"2019-07-15","series":"Services","value":2.6},{"date":"2019-08-15","series":"Services","value":2.7},{"date":"2019-09-15","series":"Services","value":2.8},{"date":"2019-10-15","series":"Services","value":2.8},{"date":"2019-11-15","series":"Services","value":2.9},{"date":"2019-12-15","series":"Services","value":2.8},
{"date":"2020-01-15","series":"Services","value":2.9},{"date":"2020-02-15","series":"Services","value":3.0},{"date":"2020-03-15","series":"Services","value":2.7},{"date":"2020-04-15","series":"Services","value":2.0},{"date":"2020-05-15","series":"Services","value":1.9},{"date":"2020-06-15","series":"Services","value":1.8},{"date":"2020-07-15","series":"Services","value":2.1},{"date":"2020-08-15","series":"Services","value":2.0},{"date":"2020-09-15","series":"Services","value":1.9},{"date":"2020-10-15","series":"Services","value":1.7},{"date":"2020-11-15","series":"Services","value":1.7},{"date":"2020-12-15","series":"Services","value":1.7},
{"date":"2021-01-15","series":"Services","value":1.35},{"date":"2021-02-15","series":"Services","value":1.4},{"date":"2021-03-15","series":"Services","value":1.8},{"date":"2021-04-15","series":"Services","value":2.6},{"date":"2021-05-15","series":"Services","value":3.05},{"date":"2021-06-15","series":"Services","value":3.2},{"date":"2021-07-15","series":"Services","value":3.0},{"date":"2021-08-15","series":"Services","value":3.0},{"date":"2021-09-15","series":"Services","value":3.2},{"date":"2021-10-15","series":"Services","value":3.55},{"date":"2021-11-15","series":"Services","value":3.8},{"date":"2021-12-15","series":"Services","value":4.1},
{"date":"2022-01-15","series":"Services","value":4.55},{"date":"2022-02-15","series":"Services","value":4.8},{"date":"2022-03-15","series":"Services","value":5.1},{"date":"2022-04-15","series":"Services","value":5.4},{"date":"2022-05-15","series":"Services","value":5.65},{"date":"2022-06-15","series":"Services","value":6.2},{"date":"2022-07-15","series":"Services","value":6.3},{"date":"2022-08-15","series":"Services","value":6.8},{"date":"2022-09-15","series":"Services","value":7.45},{"date":"2022-10-15","series":"Services","value":7.25},{"date":"2022-11-15","series":"Services","value":7.25},{"date":"2022-12-15","series":"Services","value":7.5},
{"date":"2023-01-15","series":"Services","value":7.65},{"date":"2023-02-15","series":"Services","value":7.65},{"date":"2023-03-15","series":"Services","value":7.2},{"date":"2023-04-15","series":"Services","value":6.8},{"date":"2023-05-15","series":"Services","value":6.3}
]
},
"resolve": {"scale": {"color": "independent"}},
"layer": [
{
"data": {"name": "ticks"},
"mark": {"type": "rule", "color": "#D9D9D9", "strokeWidth": 2},
"encoding": {
"x": {"field": "date", "type": "temporal",
"scale": {"type": "utc", "domain": [{"year": 2010, "month": 1, "date": 1, "utc": true}, {"year": 2023, "month": 6, "date": 1, "utc": true}]},
"axis": {"title": null, "values": [{"year": 2010, "month": 1, "date": 1, "utc": true}, {"year": 2012, "month": 1, "date": 1, "utc": true}, {"year": 2014, "month": 1, "date": 1, "utc": true}, {"year": 2016, "month": 1, "date": 1, "utc": true}, {"year": 2018, "month": 1, "date": 1, "utc": true}, {"year": 2020, "month": 1, "date": 1, "utc": true}, {"year": 2022, "month": 1, "date": 1, "utc": true}],
"format": "%Y", "labelOffset": 7, "labelPadding": 53, "domain": false, "ticks": false, "tickSize": 0, "grid": false,
"labelFont": "Lato", "labelFontSize": 56, "labelFontWeight": "bold", "labelColor": "#000000", "labelFlush": false, "labelOverlap": false}},
"y": {"datum": 0, "type": "quantitative"},
"y2": {"datum": -0.5}
}
},
{
"data": {"name": "cpi"},
"transform": [{"filter": {"field": "series", "oneOf": ["All Items", "All Items Excluding Food and Energy"]}}],
"mark": {"type": "line", "strokeWidth": 11, "strokeCap": "round", "strokeJoin": "round"},
"encoding": {
"x": {"field": "date", "type": "temporal"},
"y": {"field": "value", "type": "quantitative",
"scale": {"domain": [-8, 16], "nice": false, "zero": false},
"axis": {"title": null, "values": [-8, -4, 0, 4, 8, 12, 16], "labelExpr": "datum.value + '%'",
"grid": true, "gridColor": "#D9D9D9", "gridWidth": 2, "domain": false, "ticks": false, "tickSize": 0,
"labelPadding": 57, "labelFont": "Lato", "labelFontSize": 56, "labelFontWeight": "bold", "labelColor": "#000000"}},
"color": {"field": "series", "type": "nominal",
"scale": {"domain": ["All Items", "All Items Excluding Food and Energy"], "range": ["#4472C4", "#ED7D31"]},
"legend": {"orient": "none", "legendX": 159, "legendY": -1, "title": null, "symbolType": "stroke", "symbolSize": 1849, "symbolStrokeWidth": 11,
"labelFont": "Lato", "labelFontSize": 58, "labelColor": "#000000", "labelOffset": 2, "rowPadding": 16.5, "labelLimit": 2000, "padding": 0}}
}
},
{
"data": {"name": "cpi"},
"transform": [{"filter": {"field": "series", "oneOf": ["Commodities", "Services"]}}],
"mark": {"type": "line", "strokeWidth": 5, "strokeCap": "round", "strokeJoin": "round"},
"encoding": {
"x": {"field": "date", "type": "temporal"},
"y": {"field": "value", "type": "quantitative"},
"color": {"field": "series", "type": "nominal",
"scale": {"domain": ["Commodities", "Services"], "range": ["#00A33C", "#C00000"]},
"legend": {"orient": "none", "legendX": 159, "legendY": 155, "title": null, "symbolType": "stroke", "symbolSize": 1849, "symbolStrokeWidth": 6.5,
"labelFont": "Lato", "labelFontSize": 58, "labelColor": "#000000", "labelOffset": 2, "rowPadding": 16.5, "labelLimit": 2000, "padding": 0}}
}
},
{
"data": {"name": "ends"},
"transform": [{"filter": {"field": "series", "equal": "Services"}}],
"mark": {"type": "text", "align": "left", "baseline": "middle", "dx": 21, "dy": -15, "font": "Lato", "fontSize": 56, "fontWeight": "bold", "color": "#C00000"},
"encoding": {"x": {"field": "date", "type": "temporal"}, "y": {"field": "value", "type": "quantitative"}, "text": {"field": "label"}}
},
{
"data": {"name": "ends"},
"transform": [{"filter": {"field": "series", "equal": "All Items Excluding Food and Energy"}}],
"mark": {"type": "text", "align": "left", "baseline": "middle", "dx": 21, "dy": 12, "font": "Lato", "fontSize": 56, "fontWeight": "bold", "color": "#ED7D31"},
"encoding": {"x": {"field": "date", "type": "temporal"}, "y": {"field": "value", "type": "quantitative"}, "text": {"field": "label"}}
},
{
"data": {"name": "ends"},
"transform": [{"filter": {"field": "series", "equal": "All Items"}}],
"mark": {"type": "text", "align": "left", "baseline": "middle", "dx": 21, "dy": 25, "font": "Lato", "fontSize": 56, "fontWeight": "bold", "color": "#4472C4"},
"encoding": {"x": {"field": "date", "type": "temporal"}, "y": {"field": "value", "type": "quantitative"}, "text": {"field": "label"}}
},
{
"data": {"name": "ends"},
"transform": [{"filter": {"field": "series", "equal": "Commodities"}}],
"mark": {"type": "text", "align": "left", "baseline": "middle", "dx": 21, "dy": 5, "font": "Lato", "fontSize": 56, "fontWeight": "bold", "color": "#70AD47"},
"encoding": {"x": {"field": "date", "type": "temporal"}, "y": {"field": "value", "type": "quantitative"}, "text": {"field": "label"}}
}
]
}
